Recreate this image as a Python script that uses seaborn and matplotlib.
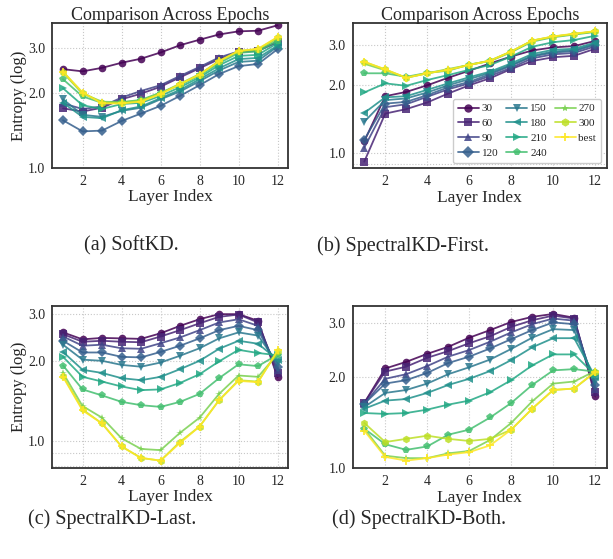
import numpy as np
import pandas as pd
import seaborn as sns
import matplotlib
matplotlib.use("Agg")
import matplotlib.pyplot as plt
from matplotlib.ticker import FixedLocator, FormatStrFormatter, NullFormatter

# data
layers = list(range(1, 13))
epochs = ['30', '60', '90', '120', '150', '180', '210', '240', '270', '300', 'best']
markers = ['o', 's', '^', 'D', 'v', '<', '>', 'p', '*', 'h', 'P']

softkd = {
    '30':   [2.48, 2.43, 2.51, 2.63, 2.73, 2.89, 3.09, 3.25, 3.41, 3.51, 3.53, 3.71],
    '60':   [1.73, 1.68, 1.74, 1.88, 1.98, 2.11, 2.30, 2.50, 2.72, 2.90, 2.93, 3.18],
    '90':   [1.81, 1.72, 1.76, 1.91, 2.03, 2.14, 2.33, 2.53, 2.76, 2.92, 2.95, 3.20],
    '120':  [1.55, 1.40, 1.41, 1.54, 1.65, 1.77, 1.94, 2.14, 2.37, 2.55, 2.60, 2.98],
    '150':  [1.88, 1.63, 1.60, 1.69, 1.74, 1.88, 2.02, 2.22, 2.45, 2.65, 2.68, 3.05],
    '180':  [1.82, 1.60, 1.58, 1.70, 1.76, 1.90, 2.05, 2.26, 2.50, 2.72, 2.75, 3.08],
    '210':  [2.08, 1.78, 1.72, 1.80, 1.82, 1.94, 2.10, 2.30, 2.57, 2.80, 2.83, 3.15],
    '240':  [2.26, 1.93, 1.82, 1.83, 1.87, 2.00, 2.14, 2.34, 2.62, 2.88, 2.92, 3.22],
    '270':  [2.40, 1.98, 1.84, 1.83, 1.86, 1.99, 2.17, 2.37, 2.66, 2.92, 2.97, 3.28],
    '300':  [2.42, 2.00, 1.82, 1.81, 1.85, 1.98, 2.16, 2.36, 2.67, 2.93, 2.98, 3.32],
    'best': [2.42, 2.00, 1.81, 1.81, 1.84, 1.97, 2.16, 2.36, 2.67, 2.93, 2.99, 3.33],
}

first = {
    '30':   [1.13, 1.79, 1.87, 2.00, 2.16, 2.32, 2.50, 2.68, 2.85, 2.94, 2.98, 3.14],
    '60':   [0.92, 1.50, 1.57, 1.68, 1.84, 2.00, 2.15, 2.36, 2.56, 2.66, 2.70, 2.90],
    '90':   [1.06, 1.60, 1.65, 1.78, 1.92, 2.04, 2.20, 2.39, 2.63, 2.74, 2.78, 2.97],
    '120':  [1.15, 1.66, 1.69, 1.81, 1.96, 2.07, 2.24, 2.44, 2.68, 2.79, 2.83, 3.02],
    '150':  [1.38, 1.72, 1.75, 1.86, 2.00, 2.13, 2.27, 2.46, 2.70, 2.82, 2.86, 3.05],
    '180':  [1.51, 1.77, 1.79, 1.91, 2.04, 2.17, 2.30, 2.50, 2.75, 2.87, 2.90, 3.09],
    '210':  [1.86, 2.04, 1.99, 2.11, 2.22, 2.34, 2.46, 2.68, 2.96, 3.10, 3.17, 3.31],
    '240':  [2.26, 2.26, 2.18, 2.27, 2.32, 2.47, 2.56, 2.80, 3.12, 3.26, 3.35, 3.44],
    '270':  [2.49, 2.33, 2.16, 2.26, 2.36, 2.46, 2.57, 2.82, 3.15, 3.28, 3.37, 3.46],
    '300':  [2.54, 2.35, 2.16, 2.26, 2.34, 2.46, 2.57, 2.82, 3.15, 3.28, 3.37, 3.46],
    'best': [2.54, 2.35, 2.16, 2.26, 2.34, 2.46, 2.57, 2.82, 3.15, 3.29, 3.38, 3.47],
}

last = {
    '30':   [2.56, 2.41, 2.44, 2.43, 2.42, 2.54, 2.71, 2.87, 3.00, 3.00, 2.83, 1.73],
    '60':   [2.52, 2.36, 2.38, 2.36, 2.35, 2.47, 2.61, 2.77, 2.93, 2.99, 2.79, 1.80],
    '90':   [2.47, 2.28, 2.30, 2.23, 2.22, 2.33, 2.45, 2.61, 2.79, 2.87, 2.71, 1.85],
    '120':  [2.38, 2.15, 2.15, 2.07, 2.06, 2.16, 2.28, 2.43, 2.61, 2.71, 2.61, 1.90],
    '150':  [2.30, 2.02, 2.00, 1.93, 1.90, 1.97, 2.09, 2.23, 2.43, 2.56, 2.49, 1.96],
    '180':  [2.16, 1.85, 1.80, 1.72, 1.69, 1.74, 1.86, 2.00, 2.22, 2.38, 2.32, 2.02],
    '210':  [2.07, 1.74, 1.67, 1.60, 1.55, 1.56, 1.65, 1.78, 1.99, 2.20, 2.14, 2.10],
    '240':  [1.92, 1.56, 1.48, 1.40, 1.36, 1.34, 1.40, 1.50, 1.72, 1.94, 1.91, 2.11],
    '270':  [1.80, 1.35, 1.22, 1.02, 0.93, 0.92, 1.07, 1.22, 1.50, 1.76, 1.74, 2.12],
    '300':  [1.75, 1.31, 1.16, 0.95, 0.86, 0.84, 0.99, 1.13, 1.42, 1.69, 1.67, 2.17],
    'best': [1.74, 1.30, 1.16, 0.95, 0.86, 0.84, 0.98, 1.13, 1.42, 1.68, 1.66, 2.19],
}

both = {
    '30':   [1.64, 2.13, 2.24, 2.38, 2.51, 2.69, 2.85, 3.03, 3.15, 3.22, 3.13, 1.73],
    '60':   [1.64, 2.08, 2.16, 2.31, 2.43, 2.58, 2.72, 2.92, 3.07, 3.18, 3.11, 1.78],
    '90':   [1.63, 1.97, 2.04, 2.17, 2.33, 2.45, 2.61, 2.80, 2.98, 3.11, 3.06, 1.83],
    '120':  [1.63, 1.90, 1.95, 2.06, 2.22, 2.33, 2.48, 2.66, 2.85, 3.02, 2.98, 1.88],
    '150':  [1.59, 1.77, 1.81, 1.90, 2.04, 2.15, 2.28, 2.47, 2.69, 2.87, 2.85, 1.92],
    '180':  [1.57, 1.67, 1.69, 1.77, 1.88, 1.97, 2.09, 2.27, 2.50, 2.68, 2.68, 2.00],
    '210':  [1.52, 1.51, 1.52, 1.56, 1.62, 1.67, 1.78, 1.95, 2.18, 2.37, 2.37, 2.03],
    '240':  [1.35, 1.20, 1.15, 1.18, 1.29, 1.34, 1.47, 1.64, 1.88, 2.10, 2.12, 2.08],
    '270':  [1.35, 1.10, 1.08, 1.08, 1.12, 1.14, 1.24, 1.41, 1.66, 1.90, 1.93, 2.09],
    '300':  [1.41, 1.22, 1.25, 1.28, 1.25, 1.23, 1.25, 1.34, 1.57, 1.81, 1.83, 2.07],
    'best': [1.33, 1.09, 1.06, 1.08, 1.11, 1.13, 1.19, 1.34, 1.57, 1.81, 1.83, 2.08],
}

captions = ['(a) SoftKD.', '(b) SpectralKD-First.', '(c) SpectralKD-Last.', '(d) SpectralKD-Both.']

sns.set_style("whitegrid")
plt.rcParams['font.family'] = ['Liberation Serif', 'DejaVu Serif']

# full viridis range, dark purple to bright yellow
cmap = plt.get_cmap('viridis')
palette = [cmap(v) for v in np.linspace(0, 1, len(epochs))]


def to_long(d):
    rows = []
    for ep in epochs:
        for l, v in zip(layers, d[ep]):
            rows.append({'layer': l, 'entropy': v, 'epoch': ep})
    return pd.DataFrame(rows)


def draw(ax, d, ylim, title=None, ylabel=True, legend=False):
    df = to_long(d)
    sns.lineplot(data=df, x='layer', y='entropy', hue='epoch', style='epoch',
                 hue_order=epochs, style_order=epochs, palette=palette,
                 markers=markers, dashes=False, ax=ax, linewidth=1.3,
                 markersize=5.5, alpha=0.85, markeredgewidth=0,
                 legend=legend)
    ax.set_yscale('log')
    ax.set_ylim(*ylim)
    ax.yaxis.set_major_locator(FixedLocator([1.0, 2.0, 3.0]))
    ax.yaxis.set_major_formatter(FormatStrFormatter('%.1f'))
    ax.yaxis.set_minor_formatter(NullFormatter())
    ax.set_xticks([2, 4, 6, 8, 10, 12])
    ax.grid(True, which='both', linestyle=':', color='#c8c8c8', linewidth=0.8)
    ax.tick_params(axis='both', which='both', direction='out', length=3,
                   width=0.8, color='#333333', labelsize=10, pad=2)
    ax.tick_params(axis='y', which='minor', length=2)
    for s in ax.spines.values():
        s.set_color('#333333')
        s.set_linewidth(1.3)
    ax.set_xlabel('Layer Index', fontsize=12.5, labelpad=1)
    if ylabel:
        ax.set_ylabel('Entropy (log)', fontsize=12, labelpad=1)
    else:
        ax.set_ylabel('')
    if title:
        ax.set_title(title, fontsize=13, pad=2)
    if legend:
        h, l = ax.get_legend_handles_labels()
        for hh in h:
            hh.set_markersize(6)
        ax.legend(h, l, ncol=3, loc='lower right', fontsize=8, frameon=True,
                  handlelength=1.9, handletextpad=0.25, columnspacing=0.7,
                  labelspacing=0.45, borderpad=0.45, edgecolor='#cccccc',
                  fancybox=True, framealpha=1.0)


fig = plt.figure(figsize=(6.13, 5.59), dpi=100)
W, H = 613.0, 559.0
ax_a = fig.add_axes([52.3 / W, 1 - 168 / H, 236 / W, 145.3 / H])
ax_b = fig.add_axes([352.7 / W, 1 - 168.3 / H, 254 / W, 145.6 / H])
ax_c = fig.add_axes([52.3 / W, 1 - 467.7 / H, 236 / W, 161.7 / H])
ax_d = fig.add_axes([352.7 / W, 1 - 468.3 / H, 254 / W, 162.3 / H])

draw(ax_a, softkd, (1.0, 3.8), title='Comparison Across Epochs')
draw(ax_b, first, (0.86, 3.78), title='Comparison Across Epochs', ylabel=False, legend='full')
draw(ax_c, last, (0.79, 3.22))
draw(ax_d, both, (1.0, 3.42), ylabel=False)

fig.text(131 / W, 1 - 246 / H, captions[0], ha='center', va='center', fontsize=14.5)
fig.text(403 / W, 1 - 246 / H, captions[1], ha='center', va='center', fontsize=14.5)
fig.text(112 / W, 1 - 519 / H, captions[2], ha='center', va='center', fontsize=14.5)
fig.text(419 / W, 1 - 519 / H, captions[3], ha='center', va='center', fontsize=14.5)

fig.savefig('out.png', dpi=100)
